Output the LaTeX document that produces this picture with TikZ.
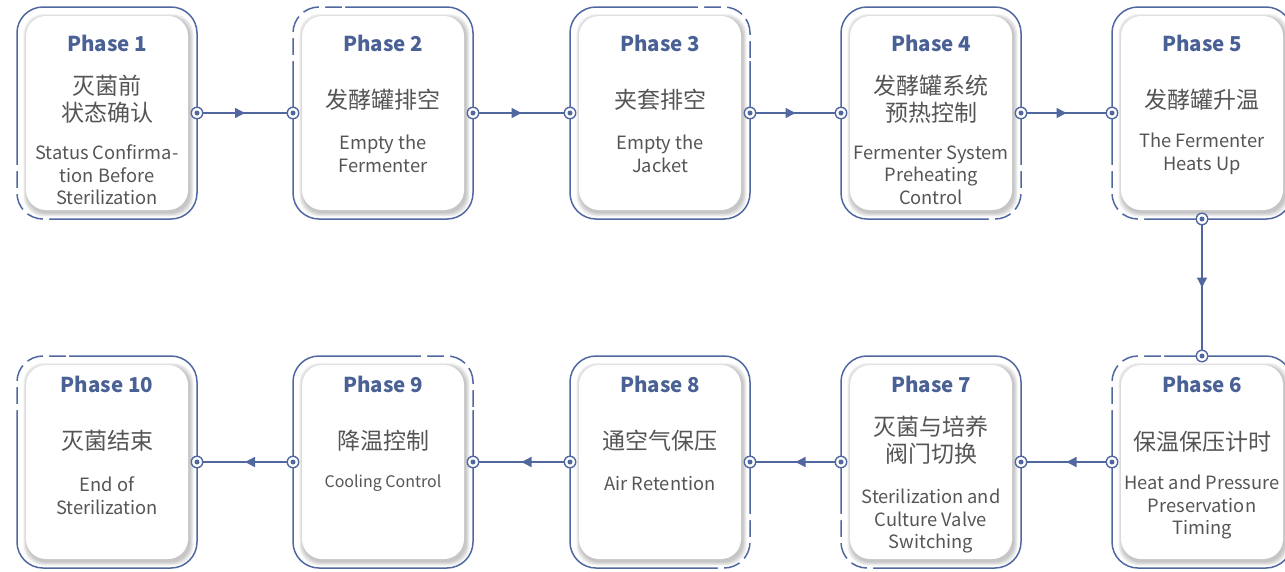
\documentclass[tikz,border=0pt]{standalone}
\usepackage{fontspec}
\setmainfont{Noto Sans CJK SC}
\usetikzlibrary{decorations.markings,arrows.meta}
\definecolor{fb}{HTML}{5067A0}
\definecolor{tb}{HTML}{4A6196}
\definecolor{tg}{HTML}{555555}
\tikzset{
  frame/.style={draw=fb, line width=1.5pt, rounded corners=26pt},
  gapcut/.style={draw=white, line width=3.8pt, rounded corners=26pt, dash pattern=on 6pt off 17pt},
  port/.style={circle, draw=fb, line width=1.4pt, fill=white, minimum size=11.5pt, inner sep=0pt,
    path picture={\fill[fb] (path picture bounding box.center) circle (2.5pt);}},
  conn/.style={draw=fb, line width=1.4pt, postaction={decorate},
    decoration={markings, mark=at position 0.5 with {\arrow[fb]{Triangle[length=10pt,width=10pt]}}}},
  title/.style={font=\fontsize{20.5}{24}\selectfont\bfseries, text=tb, inner sep=0pt},
  cn/.style={font=\fontsize{23}{27}\selectfont, text=tg, align=center, inner sep=0pt},
  en/.style={font=\fontsize{18.3}{22.5}\selectfont, text=tg, align=center, inner sep=0pt},
}
\newcommand\pframe[2]{%
  \draw[frame] (#1-90,#2) rectangle (#1+90,#2+212);
  \foreach \i in {1,...,6} {
    \fill[black, opacity=0.04, rounded corners=20pt]
      (#1-81-\i*0.7+1.5,#2+9-\i*0.7+2) rectangle (#1+81+\i*0.7+1.5,#2+203+\i*0.7+2.5);
  }
  \fill[white, rounded corners=20pt] (#1-81,#2+9) rectangle (#1+81,#2+203);
}
\newcommand\cornerBL[2]{\draw[gapcut] (#1-90,#2+158) -- (#1-90,#2+212) -- (#1-42,#2+212);}
\newcommand\cornerTL[2]{\draw[gapcut] (#1-90,#2+54) -- (#1-90,#2) -- (#1-38,#2);}
\newcommand\cornerTR[2]{\draw[gapcut] (#1+38,#2) -- (#1+90,#2) -- (#1+90,#2+54);}
\newcommand\cornerBR[2]{\draw[gapcut] (#1+90,#2+158) -- (#1+90,#2+212) -- (#1+42,#2+212);}
\begin{document}
\begin{tikzpicture}[x=1pt,y=-1pt]
\useasboundingbox (0,0) rectangle (1285,571);
\fill[white] (0,0) rectangle (1285,571);

% frames row 1
\pframe{107}{7}\cornerBL{107}{7}
\pframe{383}{7}\cornerTL{383}{7}
\pframe{660}{7}\cornerTR{660}{7}
\pframe{931}{7}\cornerBR{931}{7}
\pframe{1202}{7}\cornerBL{1202}{7}
% frames row 2
\pframe{1202}{356}\cornerTL{1202}{356}
\pframe{931}{356}\cornerBL{931}{356}
\pframe{660}{356}\cornerBR{660}{356}
\pframe{383}{356}\cornerTR{383}{356}
\pframe{107}{356}\cornerTL{107}{356}

% texts row 1
\node[title] (t1) at (107,43) {Phase 1};
\node[cn] (c1) at (107,99.5) {灭菌前\\状态确认};
\node[en] (e1) at (107,175) {Status Confirma-\\tion Before\\Sterilization};

\node[title] (t2) at (383,43) {Phase 2};
\node[cn] (c2) at (383,100) {发酵罐排空};
\node[en] (e2) at (383,154) {Empty the\\Fermenter};

\node[title] (t3) at (660,43) {Phase 3};
\node[cn] (c3) at (660,100) {夹套排空};
\node[en] (e3) at (660,154) {Empty the\\Jacket};

\node[title] (t4) at (931,43) {Phase 4};
\node[cn] (c4) at (931,99.5) {发酵罐系统\\预热控制};
\node[en] (e4) at (931,175) {Fermenter System\\Preheating\\Control};

\node[title] (t5) at (1202,43) {Phase 5};
\node[cn] (c5) at (1202,100) {发酵罐升温};
\node[en] (e5) at (1202,154) {The Fermenter\\Heats Up};

% texts row 2
\node[title] (t6) at (1202,384) {Phase 6};
\node[cn] (c6) at (1202,442) {保温保压计时};
\node[en] (e6) at (1202,507) {Heat and Pressure\\Preservation\\Timing};

\node[title] (t7) at (931,384) {Phase 7};
\node[cn] (c7) at (931,440.5) {灭菌与培养\\阀门切换};
\node[en] (e7) at (931,521) {Sterilization and\\Culture Valve\\Switching};

\node[title] (t8) at (660,384) {Phase 8};
\node[cn] (c8) at (660,441) {通空气保压};
\node[en] (e8) at (660,484) {Air Retention};

\node[title] (t9) at (383,384) {Phase 9};
\node[cn] (c9) at (383,441) {降温控制};
\node[en, font=\fontsize{16}{20}\selectfont] (e9) at (383,483) {Cooling Control};

\node[title] (t10) at (107,384) {Phase 10};
\node[cn] (c10) at (107,441) {灭菌结束};
\node[en] (e10) at (107,495.5) {End of\\Sterilization};

% ports
\node[port] (p1r) at (197,113) {};
\node[port] (p2l) at (293,113) {};
\node[port] (p2r) at (473,113) {};
\node[port] (p3l) at (570,113) {};
\node[port] (p3r) at (750,113) {};
\node[port] (p4l) at (841,113) {};
\node[port] (p4r) at (1021,113) {};
\node[port] (p5l) at (1112,113) {};
\node[port] (p5b) at (1202,219) {};
\node[port] (p6t) at (1202,356) {};
\node[port] (p6l) at (1112,462) {};
\node[port] (p7r) at (1021,462) {};
\node[port] (p7l) at (841,462) {};
\node[port] (p8r) at (750,462) {};
\node[port] (p8l) at (570,462) {};
\node[port] (p9r) at (473,462) {};
\node[port] (p9l) at (293,462) {};
\node[port] (p10r) at (197,462) {};

% connectors
\draw[conn] (p1r) -- (p2l);
\draw[conn] (p2r) -- (p3l);
\draw[conn] (p3r) -- (p4l);
\draw[conn] (p4r) -- (p5l);
\draw[conn] (p5b) -- (p6t);
\draw[conn] (p6l) -- (p7r);
\draw[conn] (p7l) -- (p8r);
\draw[conn] (p8l) -- (p9r);
\draw[conn] (p9l) -- (p10r);
\end{tikzpicture}
\end{document}
